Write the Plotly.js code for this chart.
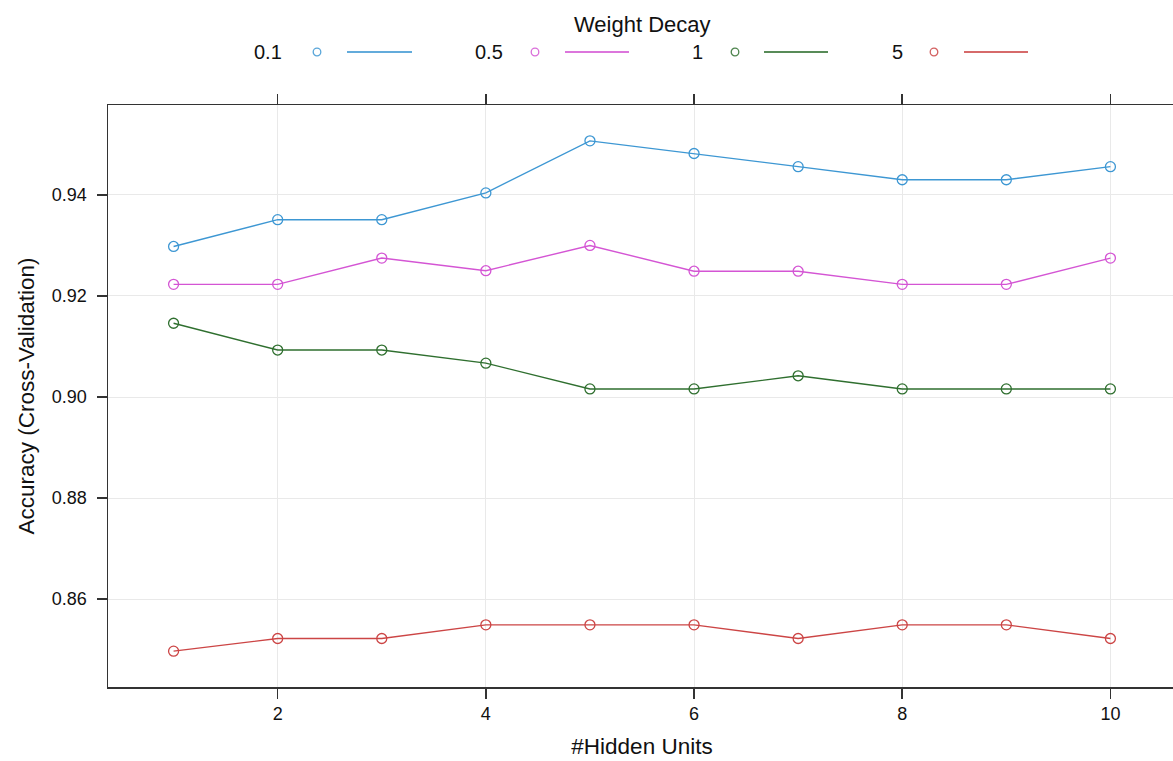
<!DOCTYPE html>
<html>
<head>
<meta charset="utf-8">
<script src="https://cdn.plot.ly/plotly-3.0.1.min.js"></script>
<style>
  html, body { margin: 0; padding: 0; overflow: hidden; background: #fff; }
  #chart { width: 1178px; height: 761px; }
</style>
</head>
<body>
<div id="chart"></div>
<script>
// ---- data ----
const hiddenUnits = [1, 2, 3, 4, 5, 6, 7, 8, 9, 10];
const decayLabels = ["0.1", "0.5", "1", "5"];
const acc_decay01 = [0.9298, 0.9351, 0.9351, 0.9404, 0.9507, 0.9482, 0.9456, 0.9430, 0.9430, 0.9456];
const acc_decay05 = [0.9223, 0.9223, 0.9275, 0.9250, 0.9300, 0.9249, 0.9249, 0.9223, 0.9223, 0.9275];
const acc_decay1  = [0.9146, 0.9093, 0.9093, 0.9067, 0.9016, 0.9016, 0.9042, 0.9016, 0.9016, 0.9016];
const acc_decay5  = [0.8497, 0.8522, 0.8522, 0.8549, 0.8549, 0.8549, 0.8522, 0.8549, 0.8549, 0.8522];
const xTickVals = [2, 4, 6, 8, 10];
const yTickVals = [0.86, 0.88, 0.90, 0.92, 0.94];
const yTickText = ["0.86", "0.88", "0.90", "0.92", "0.94"];

// ---- styling ----
const colors = ["#3d97d3", "#d455d4", "#2f6f2f", "#cc4545"];
const series = [acc_decay01, acc_decay05, acc_decay1, acc_decay5];
const FONT = "Liberation Sans, Arial, Helvetica, sans-serif";

const W = 1178, H = 761;
const M = { l: 108, r: 2, t: 105, b: 74 };
const plotW = W - M.l - M.r, plotH = H - M.t - M.b;
const px2x = px => (px - M.l) / plotW;
const py2y = py => (H - M.b - py) / plotH;

const traces = series.map((ys, i) => ({
  type: "scatter",
  mode: "lines+markers",
  x: hiddenUnits,
  y: ys,
  name: decayLabels[i],
  showlegend: false,
  line: { color: colors[i], width: 1.4 },
  marker: { symbol: "circle-open", size: 10, color: colors[i], line: { color: colors[i], width: 1.3 } },
  cliponaxis: false
}));

// ---- custom legend (label, circle, line) ----
const legendY = 52;
const legendItems = [
  { textRight: 283, circle: 317, lineL: 347, lineR: 412 },
  { textRight: 504, circle: 535, lineL: 565, lineR: 629 },
  { textRight: 704, circle: 735, lineL: 764, lineR: 828 },
  { textRight: 904, circle: 934, lineL: 964, lineR: 1028 }
];
const annotations = [{
  text: "Weight Decay", xref: "paper", yref: "paper",
  x: px2x(642), y: py2y(24), xanchor: "center", yanchor: "middle",
  showarrow: false, font: { family: FONT, size: 22, color: "#111" }
}];
const shapes = [];
legendItems.forEach((it, i) => {
  annotations.push({
    text: decayLabels[i], xref: "paper", yref: "paper",
    x: px2x(it.textRight + 1), y: py2y(legendY), xanchor: "right", yanchor: "middle",
    showarrow: false, font: { family: FONT, size: 20, color: "#111" }
  });
  shapes.push({
    type: "circle", xref: "paper", yref: "paper",
    xsizemode: "pixel", ysizemode: "pixel",
    xanchor: px2x(it.circle), yanchor: py2y(legendY),
    x0: -3.8, x1: 3.8, y0: -3.8, y1: 3.8,
    line: { color: colors[i], width: 1.3 }, opacity: 0.85
  });
  shapes.push({
    type: "line", xref: "paper", yref: "paper",
    x0: px2x(it.lineL), x1: px2x(it.lineR), y0: py2y(legendY), y1: py2y(legendY),
    line: { color: colors[i], width: 2 }, opacity: 0.8
  });
});

const layout = {
  width: W, height: H,
  margin: M,
  paper_bgcolor: "#fff", plot_bgcolor: "#fff",
  showlegend: false,
  font: { family: FONT, size: 18, color: "#111" },
  xaxis: {
    range: [0.37, 10.63],
    tickvals: xTickVals,
    ticks: "outside", ticklen: 10, tickwidth: 1.5, tickcolor: "#333",
    showline: true, linecolor: "#333", linewidth: 1.5, mirror: "ticks",
    showgrid: true, gridcolor: "#e9e9e9", gridwidth: 1,
    zeroline: false,
    tickfont: { family: FONT, size: 18, color: "#111" },
    title: { text: "#Hidden Units", font: { family: FONT, size: 22.5, color: "#111" }, standoff: 15 }
  },
  yaxis: {
    range: [0.8426, 0.9578],
    tickvals: yTickVals, ticktext: yTickText,
    ticks: "outside", ticklen: 10, tickwidth: 1.5, tickcolor: "#333",
    ticklabelstandoff: 6,
    showline: true, linecolor: "#333", linewidth: 1.5, mirror: true,
    showgrid: true, gridcolor: "#e9e9e9", gridwidth: 1,
    zeroline: false,
    tickfont: { family: FONT, size: 18, color: "#111" },
    title: { text: "Accuracy (Cross-Validation)", font: { family: FONT, size: 22.5, color: "#111" }, standoff: 11 }
  },
  annotations: annotations,
  shapes: shapes
};

Plotly.newPlot("chart", traces, layout, { staticPlot: true, displayModeBar: false });
</script>
</body>
</html>
